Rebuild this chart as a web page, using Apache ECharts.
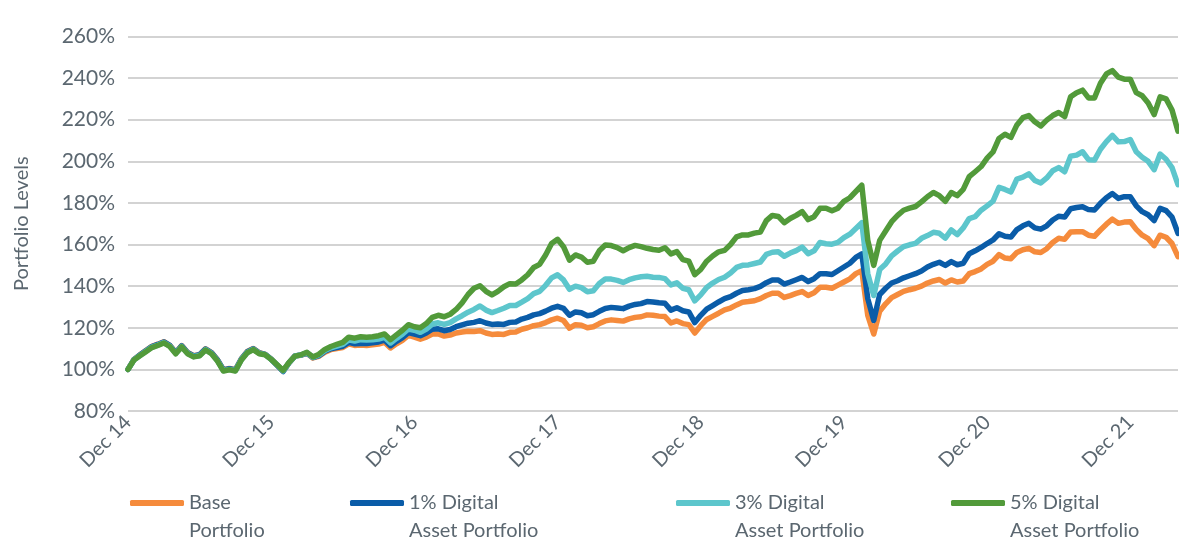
<!DOCTYPE html>
<html>
<head>
<meta charset="utf-8">
<title>Portfolio Levels</title>
<script src="https://cdn.jsdelivr.net/npm/echarts@6/dist/echarts.min.js"></script>
<style>
  html, body { margin: 0; padding: 0; background: #ffffff; }
  #chart { width: 1179px; height: 541px; }
</style>
</head>
<body>
<div id="chart"></div>
<script>
// Half-monthly portfolio levels (%), Dec 2014 = 100, through Apr 2022
const base = [
  100, 104.8, 107, 109.1, 111.1, 112.1, 113.3, 111.6, 108.1, 111.4, 108.1, 106.6, 107.1, 109.9, 108.1, 104.6, 99.8, 100.4, 99.8, 105.1, 108.6, 110, 108, 107.2, 104.9, 102, 99.2, 103.2,
  106.5, 106.8, 107.7, 105.5, 106.3, 108.3, 109.5, 110, 110.5, 112.3, 111.5, 111.7, 111.5, 111.8, 112.2, 113, 110.3, 112.3, 114, 116.3, 115.5, 114.5, 115.5, 117, 117, 116, 116.5, 117.5, 118, 118.3, 118.2,
  118.6, 117.5, 116.8, 117, 116.8, 117.8, 118, 119.3, 120, 121, 121.5, 122.5, 123.8, 124.6, 123.5, 119.8, 121.5, 121.2, 120, 120.5, 122, 123.3, 123.8, 123.5, 123.2, 124.3, 125, 125.3, 126.2,
  126, 125.6, 125.4, 122.3, 123.3, 122, 121.5, 117.5, 121, 124, 125.5, 127, 128.6, 129.5, 131, 132.3, 132.6, 133, 134, 135.5, 136.6, 136.6, 134.6, 135.5, 136.5, 137.4, 135.5, 136.8, 139.5, 139.5, 139, 140.5, 142, 143.5, 146, 147.5,
  126, 117, 128, 131.5, 134.5, 136, 137.5, 138.3, 139, 140, 141.5, 142.5, 143.2, 141.5, 143, 142, 142.5, 146, 147, 148.3, 150.5, 152, 155.2,
  153.5, 153.2, 156.2, 157.5, 158.2, 156.5, 156.2, 158, 161, 163, 162.5, 166, 166.2, 166.2, 164.5, 164, 167, 169.8, 172.2, 170.2, 170.8, 171, 167.3, 164.5, 162.8, 159.5, 164.5, 163.5, 160.5, 154.2
];
const digital1 = [
  100, 104.7, 106.9, 109, 111, 112, 113.2, 111.5, 108, 111.3, 108, 106.5, 107, 109.8, 108, 104.5, 99.7, 100.3, 99.7, 105, 108.5, 109.9, 107.9, 107.2, 104.9, 102, 99, 103.2,
  106.5, 106.9, 107.9, 105.7, 106.6, 108.7, 109.9, 110.5, 111.1, 113, 112.3, 112.5, 112.4, 112.8, 113.2, 114.1, 111.4, 113.5, 115.3, 117.7, 117, 116.2, 117.5, 119.3, 119.5, 118.6, 119.2, 120.5, 121.4, 122.2, 122.6,
  123.4, 122.3, 121.6, 121.8, 121.6, 122.6, 122.8, 124.2, 125, 126.2, 126.8, 128, 129.4, 130.3, 129.3, 126, 127.6, 127.2, 125.8, 126.3, 127.9, 129.3, 129.8, 129.5, 129.2, 130.4, 131.2, 131.6, 132.6,
  132.4, 132, 131.8, 128.5, 129.6, 128.2, 127.6, 122.5, 126, 129, 130.7, 132.4, 134, 135, 136.6, 137.9, 138.3, 138.8, 139.9, 141.7, 143, 143, 141, 142, 143.1, 144.2, 142.2, 143.6, 146, 146, 145.6, 147.4, 149.2, 151, 153.8, 155.5,
  134, 123.5, 136, 139, 141.5, 142.6, 144, 145, 146, 147.3, 149.2, 150.5, 151.5, 150, 151.8, 150.3, 151, 155.6, 157, 158.6, 160.5, 162.2, 165.2,
  164, 163.6, 167.2, 169, 170.2, 168, 167.4, 169, 171.8, 173.6, 173.2, 177.2, 177.8, 178.2, 176.8, 176.6, 179.8, 182.5, 184.5, 182.2, 183, 183, 178.6, 175.8, 174.3, 171.5, 177.4, 176.3, 173.2, 165.4
];
const digital3 = [
  100, 104.6, 106.7, 108.7, 110.7, 111.7, 112.9, 111.2, 107.7, 111, 107.7, 106.2, 106.7, 109.5, 107.7, 104.2, 99.4, 100, 99.4, 104.7, 108.2, 109.7, 107.7, 107.1, 104.8, 102.1, 99.3, 103.3,
  106.4, 106.9, 108, 105.8, 106.9, 109.1, 110.4, 111.2, 112, 114.2, 113.6, 114.3, 114.1, 114.2, 114.6, 115.4, 112.7, 114.9, 116.9, 119.4, 118.8, 117.8, 119.4, 121.8, 122.4, 121.6, 122.5, 124.3, 125.8, 127.5, 128.8,
  130.5, 128.5, 127.3, 128.3, 129.4, 130.7, 130.7, 132.3, 134, 136.4, 137.5, 140.4, 144, 145.5, 143, 138.5, 140, 139.3, 137.3, 137.8, 141.3, 143.4, 143.4, 142.8, 141.8, 143.1, 144, 144.5, 144.8,
  144.3, 144.2, 143.6, 140.6, 141.6, 139, 138.3, 132.9, 135.8, 139.4, 141.5, 143.2, 144.3, 146.3, 149, 150, 150.2, 150.9, 151.6, 155.3, 156.3, 156.5, 154.4, 155.9, 157.1, 158.8, 155.6, 157, 161, 160.4, 160.2, 161, 163.3, 165, 167.7, 170.5,
  146, 135.5, 148, 150.7, 154.6, 156.9, 159, 159.9, 160.6, 163, 164.3, 165.9, 165.4, 163.1, 167, 164.8, 168, 172.5, 173.4, 176.5, 178.6, 180.9, 187.5,
  186.5, 185.3, 191.5, 192.4, 194, 190.8, 189.6, 192, 195.5, 197, 195, 202.5, 203, 204.6, 200.8, 200.6, 205.8, 209.5, 212.5, 209.4, 209.5, 210.5, 204.6, 202, 200, 196, 203.5, 201, 197, 188.8
];
const digital5 = [
  100, 104.5, 106.5, 108.5, 110.5, 111.5, 112.7, 111, 107.5, 110.8, 107.5, 106, 106.5, 109.3, 107.5, 104, 99.2, 99.8, 99.2, 104.5, 108, 109.5, 107.5, 107, 104.8, 102.2, 99.5, 103.4,
  106.4, 107, 108.2, 106, 107.3, 109.6, 111, 112, 113, 115.5, 115, 115.7, 115.5, 115.7, 116.2, 117, 114.3, 116.6, 118.8, 121.5, 120.5, 120, 122, 125, 126, 125.3, 126.5, 128.8, 132, 136, 139,
  140.2, 137.5, 135.8, 137.5, 139.7, 141.2, 141, 143, 145.5, 149, 150.5, 155, 160.5, 162.5, 159, 152.5, 155, 154, 151.5, 152, 157, 159.8, 159.5, 158.5, 157, 158.5, 159.6, 159, 158.2,
  157.6, 157.3, 158.5, 155.5, 156.6, 152.8, 152, 145.5, 148, 152, 154.5, 156.5, 157.2, 160, 163.7, 164.6, 164.6, 165.5, 166, 171.5, 174, 173.5, 170.5, 172.5, 174, 175.8, 172, 173.4, 177.4, 177.5, 176.2, 177.5, 180.8, 182.5, 185.5, 188.5,
  162, 150, 162, 166.5, 171, 174, 176.5, 177.5, 178.3, 180.5, 183, 185, 183.5, 180.8, 185, 183.5, 186.5, 192.6, 195, 197.5, 201.5, 204.5, 211,
  213, 211.5, 217.5, 221, 222, 219, 217, 219.8, 222, 223.5, 221.5, 231, 233, 234.2, 230.5, 230.5, 237.5, 242, 243.6, 240.5, 239.5, 239.5, 233, 231.5, 228, 222.5, 231, 230, 224.7, 214.5
];

const seriesNames = ['Base\nPortfolio', '1% Digital\nAsset Portfolio', '3% Digital\nAsset Portfolio', '5% Digital\nAsset Portfolio'];
const seriesData = [base, digital1, digital3, digital5];
const seriesColors = ['#F58B3C', '#0A5CA8', '#5DC6CC', '#529A3A'];

// One x tick per year, every 24 half-month periods
const tickLabels = ['Dec 14', 'Dec 15', 'Dec 16', 'Dec 17', 'Dec 18', 'Dec 19', 'Dec 20', 'Dec 21'];
const periodsPerTick = 24;

// Half-month periods starting at end of Dec 2014
const monthNames = ['Jan', 'Feb', 'Mar', 'Apr', 'May', 'Jun', 'Jul', 'Aug', 'Sep', 'Oct', 'Nov', 'Dec'];
const periods = base.map(function (_, i) {
  const m = 11 + Math.ceil(i / 2);
  const year = 2014 + Math.floor(m / 12);
  const label = monthNames[m % 12] + ' ' + String(year).slice(2);
  return (i % 2 === 1 ? 'mid ' : '') + label;
});

const textColor = '#5B6770';
const fontFamily = 'Lato, "Noto Sans", sans-serif';
const legendLeft = [130, 350, 676, 951];

const chart = echarts.init(document.getElementById('chart'), null, { renderer: 'canvas' });

chart.setOption({
  backgroundColor: '#ffffff',
  animation: false,
  grid: { left: 128, right: 1, top: 36.5, bottom: 130 },
  xAxis: {
    type: 'category',
    data: periods,
    boundaryGap: false,
    axisLine: { show: false },
    axisTick: { show: false },
    splitLine: { show: false },
    axisLabel: {
      rotate: 45,
      margin: 8,
      color: textColor,
      fontFamily: fontFamily,
      fontSize: 20,
      interval: function (index) { return index % periodsPerTick === 0; },
      formatter: function (value, index) { return tickLabels[index / periodsPerTick] || ''; }
    }
  },
  yAxis: {
    type: 'value',
    min: 80,
    max: 260,
    interval: 20,
    name: 'Portfolio Levels',
    nameLocation: 'middle',
    nameGap: 96,
    nameTextStyle: { color: textColor, fontFamily: fontFamily, fontSize: 20 },
    axisLine: { show: false },
    axisTick: { show: false },
    axisLabel: {
      margin: 13,
      color: textColor,
      fontFamily: fontFamily,
      fontSize: 21,
      formatter: '{value}%'
    },
    splitLine: { lineStyle: { color: '#D3D3D3', width: 2 } }
  },
  // Legend items sit beside the first line of their two-line names:
  // a leading empty line makes the name's first line the middle one.
  legend: seriesNames.map(function (name, k) {
    return {
      data: [name],
      left: legendLeft[k],
      top: 461,
      padding: 0,
      selectedMode: false,
      icon: 'roundRect',
      itemWidth: 54,
      itemHeight: 6,
      formatter: function (n) { return '\n' + n; },
      textStyle: {
        color: textColor,
        fontFamily: fontFamily,
        fontSize: 20,
        lineHeight: 28
      }
    };
  }),
  series: seriesNames.map(function (name, k) {
    return {
      name: name,
      type: 'line',
      data: seriesData[k],
      symbol: 'none',
      smooth: false,
      lineStyle: { color: seriesColors[k], width: 5.5, join: 'round', cap: 'round' },
      itemStyle: { color: seriesColors[k] },
      emphasis: { disabled: true }
    };
  })
});
</script>
</body>
</html>
